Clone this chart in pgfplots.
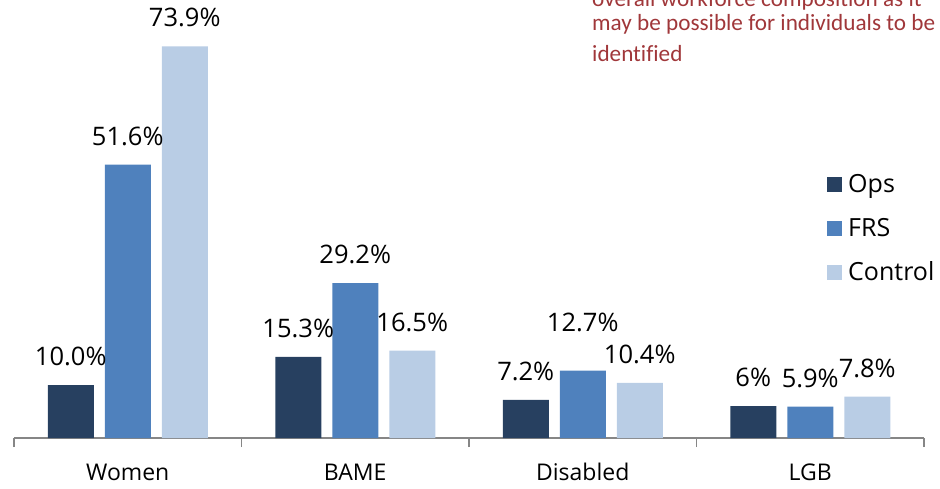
\documentclass[border=0pt]{standalone}
\usepackage{pgfplots}
\usepackage{pgfplotstable}
\pgfplotsset{compat=1.18}
\usepackage{fontspec}
\setmainfont{Open Sans}
\newfontfamily\notefont[Ligatures=NoCommon]{Carlito}
\definecolor{cOps}{RGB}{39,64,96}
\definecolor{cFRS}{RGB}{79,129,189}
\definecolor{cCtl}{RGB}{185,205,229}
\definecolor{cNote}{RGB}{160,55,58}
\definecolor{cAxis}{RGB}{134,134,134}

\pgfplotstableread{
x y lab off
0 10.0 10.0 19.5
1 15.3 15.3 19.5
2 7.2 7.2 19.5
3 6.0 6 19.5
}\opsdata
\pgfplotstableread{
x y lab off
0 51.6 51.6 19.5
1 29.2 29.2 19.5
2 12.7 12.7 39
3 5.9 5.9 19.5
}\frsdata
\pgfplotstableread{
x y lab off
0 73.9 73.9 19.5
1 16.5 16.5 19.5
2 10.4 10.4 19.5
3 7.8 7.8 19.5
}\ctldata

\begin{document}
\begin{tikzpicture}
\useasboundingbox (0,0) rectangle (940pt,488pt);
\begin{axis}[
  at={(14pt,50pt)}, anchor=south west,
  width=910pt, height=424pt, scale only axis,
  xmin=-0.5, xmax=3.5, ymin=0, ymax=80,
  axis y line=none, axis x line*=bottom,
  x axis line style={-, draw=cAxis, line width=1.3pt},
  xtick={0,1,2,3}, xticklabels={Women,BAME,Disabled,LGB},
  major x tick style={draw=none},
  xticklabel style={font=\fontsize{23}{28}\selectfont, anchor=base, yshift=-42.5pt},
  extra x ticks={-0.5,0.5,1.5,2.5,3.5}, extra x tick labels={},
  extra x tick style={tick align=outside, major tick length=9pt, major x tick style={draw=cAxis, line width=1.3pt}},
  clip=false,
  point meta=explicit symbolic,
  nodes near coords={\pgfplotspointmeta\%},
  visualization depends on={\thisrow{off} \as \labeloff},
  every node near coord/.append style={font=\fontsize{25.5}{30}\selectfont, anchor=base, yshift=\labeloff pt, inner sep=0pt, text=black},
  legend style={draw=none, fill=none, at={(rel axis cs:0.8934,0.6226)}, anchor=north west,
    inner sep=0pt, column sep=6pt, row sep=20pt,
    nodes={inner sep=0pt, anchor=base west, font=\fontsize{25}{30}\selectfont, text height=18pt, text depth=6pt}},
  legend cell align=left,
  legend image code/.code={\fill[#1] (0pt,0pt) rectangle (15pt,15pt);},
]
\addplot[ybar, bar width=46pt, bar shift=-57pt, fill=cOps, draw=none,
  every node near coord/.append style={xshift=-57pt}] table[x=x,y=y,meta=lab]{\opsdata};
\addplot[ybar, bar width=46pt, bar shift=0pt, fill=cFRS, draw=none] table[x=x,y=y,meta=lab]{\frsdata};
\addplot[ybar, bar width=46pt, bar shift=57pt, fill=cCtl, draw=none,
  every node near coord/.append style={xshift=57pt}] table[x=x,y=y,meta=lab]{\ctldata};
\legend{Ops,FRS,Control}
\end{axis}
\begin{scope}[every node/.style={anchor=base west, inner sep=0pt, text=cNote, font=\notefont\fontsize{23.2}{28}\selectfont}]
\node at (592pt,481.5pt) {overall workforce composition as it};
\node at (592pt,457pt) {may be possible for individuals to be};
\node at (592pt,426.5pt) {identified};
\end{scope}
\end{tikzpicture}
\end{document}
